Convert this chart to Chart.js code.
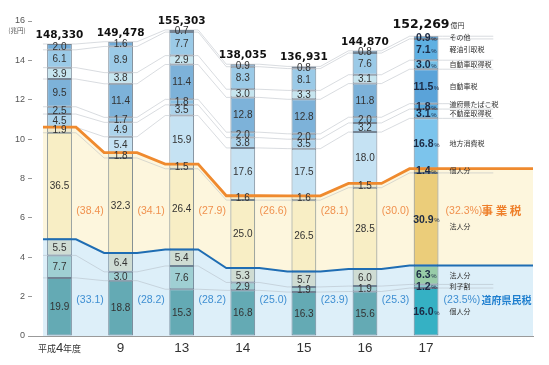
<!DOCTYPE html>
<html>
<head>
<meta charset="utf-8">
<script src="https://cdn.jsdelivr.net/npm/chart.js@4.4.0/dist/chart.umd.min.js"></script>
<style>
  html, body { margin: 0; padding: 0; background: #fff; }
</style>
</head>
<body>
<canvas id="chart" width="549" height="365"></canvas>
<script>
// fiscal years and totals (億円)
const years = ['平成4年度', '9', '13', '14', '15', '16', '17'];
const totals = [148330, 149478, 155303, 138035, 136931, 144870, 152269];

// composition in % , bottom to top
const kenminKojin = [19.9, 18.8, 15.3, 16.8, 16.3, 15.6, 16.0];
const rishiwari   = [7.7, 3.0, 7.6, 2.9, 1.9, 1.9, 1.2];
const kenminHojin = [5.5, 6.4, 5.4, 5.3, 5.7, 6.0, 6.3];
const jigyoHojin  = [36.5, 32.3, 26.4, 25.0, 26.5, 28.5, 30.9];
const jigyoKojin  = [1.9, 1.8, 1.5, 1.6, 1.6, 1.5, 1.4];
const chihoShohi  = [0, 5.4, 15.9, 17.6, 17.5, 18.0, 16.8];
const fudosan     = [4.5, 4.9, 3.5, 3.8, 3.5, 3.2, 3.1];
const tabako      = [2.5, 1.7, 1.8, 2.0, 2.0, 2.0, 1.8];
const jidosha     = [9.5, 11.4, 11.4, 12.8, 12.8, 11.8, 11.5];
const shutoku     = [3.9, 3.8, 2.9, 3.0, 3.3, 3.1, 3.0];
const keiyu       = [6.1, 8.9, 7.7, 8.3, 8.1, 7.6, 7.1];
const sonota      = [2.0, 1.6, 0.7, 0.9, 0.8, 0.8, 0.9];

// printed group shares
const kenminShare = [33.1, 28.2, 28.2, 25.0, 23.9, 25.3, 23.5];
const jigyoShare  = [38.4, 34.1, 27.9, 26.6, 28.1, 30.0, 32.3];

const yTicks = [0, 2, 4, 6, 8, 10, 12, 14, 16];

const series = [
  { name: '個人分', pct: kenminKojin, color: '#64aab4', hi: '#35b1c4' },
  { name: '利子割', pct: rishiwari, color: '#9fcfd3', hi: '#86cbd0' },
  { name: '法人分', pct: kenminHojin, color: '#cfdcd3', hi: '#98cca8' },
  { name: '法人分', pct: jigyoHojin, color: '#f8eec5', hi: '#ebcd7a' },
  { name: '個人分', pct: jigyoKojin, color: '#f1e9c9', hi: '#e4c980' },
  { name: '地方消費税', pct: chihoShohi, color: '#c5e2f3', hi: '#7cc4ec' },
  { name: '不動産取得税', pct: fudosan, color: '#acd3eb', hi: '#66b8e6' },
  { name: '道府県たばこ税', pct: tabako, color: '#8ac0e2', hi: '#55a9de' },
  { name: '自動車税', pct: jidosha, color: '#7db2d9', hi: '#5aa3d9' },
  { name: '自動車取得税', pct: shutoku, color: '#c6e5ef', hi: '#74bfe6' },
  { name: '軽油引取税', pct: keiyu, color: '#9bcae7', hi: '#5fb0e2' },
  { name: 'その他', pct: sonota, color: '#72acd8', hi: '#3f97d4' }
];

const FONT = '"Liberation Sans", Arial, sans-serif';
const JP = '"Noto Sans CJK JP", sans-serif';
const hw = 0.27;      // half bar width in x units (barPercentage 0.54)
const xMax = 7.75;

// heights in 兆円
const heights = series.map(s => s.pct.map((p, i) => p * totals[i] / 1e6));
const tops = heights.map((h, k) => h.map((_, i) => {
  let t = 0;
  for (let j = 0; j <= k; j++) t += heights[j][i];
  return t;
}));
const kenminTop = tops[2];
const jigyoTop = tops[4];

function stepLine(vals, extendTo) {
  const pts = [];
  vals.forEach((v, i) => {
    pts.push({ x: i - hw, y: v }, { x: i + hw, y: v });
  });
  pts.push({ x: extendTo, y: vals[vals.length - 1] });
  return pts;
}

const datasets = [];
datasets.push({
  type: 'line', data: stepLine(kenminTop, xMax), yAxisID: 'yl',
  borderWidth: 0, pointRadius: 0, fill: 'origin', backgroundColor: '#ddeff9', order: 20
});
datasets.push({
  type: 'line', data: stepLine(jigyoTop, xMax), yAxisID: 'yl',
  borderWidth: 0, pointRadius: 0, fill: '-1', backgroundColor: '#fdf6dd', order: 19
});
tops.forEach((t, k) => {
  if (k === 2 || k === 4) return;
  datasets.push({
    type: 'line', data: stepLine(t, 7.1), yAxisID: 'yl',
    borderColor: 'rgba(170,178,186,0.45)', borderWidth: 1, pointRadius: 0, fill: false, order: 10
  });
});
const barStart = datasets.length;
series.forEach((s, k) => {
  datasets.push({
    type: 'bar', label: s.name, stack: 'all',
    data: heights[k].map((v, i) => ({ x: i, y: v })),
    backgroundColor: years.map((_, i) => i === 6 ? s.hi : s.color),
    borderColor: 'rgba(70,90,110,0.7)', borderWidth: 1, borderSkipped: false,
    barPercentage: 0.54, categoryPercentage: 1, order: 5
  });
});
datasets.push({
  type: 'line', data: stepLine(kenminTop, xMax), yAxisID: 'yl',
  borderColor: '#1f6db3', borderWidth: 2, pointRadius: 0, fill: false, order: 0
});
datasets.push({
  type: 'line', data: stepLine(jigyoTop, xMax), yAxisID: 'yl',
  borderColor: '#ef8a2e', borderWidth: 2.8, pointRadius: 0, fill: false, order: 0
});

const texts = {
  id: 'texts',
  afterDatasetsDraw(chart) {
    const { ctx, scales: { x, y } } = chart;
    ctx.save();
    // segment values
    series.forEach((s, k) => {
      const meta = chart.getDatasetMeta(barStart + k);
      s.pct.forEach((p, i) => {
        if (!p) return;
        const el = meta.data[i];
        const cy = (el.y + el.base) / 2 + 0.5;
        ctx.textBaseline = 'middle';
        if (i === 6) {
          const num = p.toFixed(1);
          ctx.font = 'bold 10.5px ' + FONT;
          const w1 = ctx.measureText(num).width;
          ctx.font = '6px ' + FONT;
          const w2 = ctx.measureText('%').width;
          const sx = el.x - (w1 + w2) / 2;
          ctx.fillStyle = '#1b2a44';
          ctx.textAlign = 'left';
          ctx.font = 'bold 10.5px ' + FONT;
          ctx.fillText(num, sx, cy);
          ctx.font = '6px ' + FONT;
          ctx.fillText('%', sx + w1 + 0.5, cy + 1);
        } else {
          ctx.font = '10px ' + FONT;
          ctx.fillStyle = '#333';
          ctx.textAlign = 'center';
          ctx.fillText(p.toFixed(1), el.x, cy);
        }
      });
    });
    // totals on top
    const topMeta = chart.getDatasetMeta(barStart + series.length - 1);
    totals.forEach((t, i) => {
      const el = topMeta.data[i];
      const txt = t.toLocaleString('en-US');
      ctx.fillStyle = '#111';
      ctx.textBaseline = 'alphabetic';
      if (i === 6) {
        ctx.font = 'bold 12.5px "DejaVu Sans", sans-serif';
        const w1 = ctx.measureText(txt).width;
        ctx.font = '7px ' + JP;
        const w2 = ctx.measureText('億円').width;
        const sx = el.x + 2 - (w1 + w2) / 2;
        ctx.textAlign = 'left';
        ctx.font = 'bold 12.5px "DejaVu Sans", sans-serif';
        ctx.fillText(txt, sx, el.y - 8);
        ctx.font = '7px ' + JP;
        ctx.fillStyle = '#333';
        ctx.fillText('億円', sx + w1 + 1, el.y - 8);
      } else {
        ctx.font = 'bold 10.5px "DejaVu Sans", sans-serif';
        ctx.textAlign = 'center';
        ctx.fillText(txt, el.x, el.y - 6);
      }
    });
    // group shares between bars
    ctx.font = '10.5px ' + FONT;
    ctx.textBaseline = 'middle';
    for (let i = 0; i < 6; i++) {
      ctx.textAlign = 'center';
      ctx.fillStyle = '#f0914e';
      ctx.fillText('(' + jigyoShare[i].toFixed(1) + ')', x.getPixelForValue(i + 0.5), y.getPixelForValue(6.35));
      ctx.fillStyle = '#3f8fd2';
      ctx.fillText('(' + kenminShare[i].toFixed(1) + ')', x.getPixelForValue(i + 0.5), y.getPixelForValue(1.8));
    }
    const rx = x.getPixelForValue(6 + hw);
    ctx.textAlign = 'left';
    ctx.fillStyle = '#f0914e';
    const jt = '(' + jigyoShare[6].toFixed(1) + '%)';
    ctx.fillText(jt, rx + 3, y.getPixelForValue(6.35));
    ctx.font = 'bold 11.5px ' + JP;
    ctx.fillStyle = '#ee7f2a';
    ctx.fillText('事 業 税', rx + 39, y.getPixelForValue(6.35));
    ctx.font = '10.5px ' + FONT;
    ctx.fillStyle = '#3f8fd2';
    ctx.fillText('(' + kenminShare[6].toFixed(1) + '%)', rx + 1, y.getPixelForValue(1.8));
    ctx.font = 'bold 10px ' + JP;
    ctx.fillStyle = '#1f7fcf';
    ctx.fillText('道府県民税', rx + 39, y.getPixelForValue(1.8));
    // category names beside the last bar
    ctx.font = '7px ' + JP;
    ctx.fillStyle = '#333';
    series.forEach((s, k) => {
      const el = chart.getDatasetMeta(barStart + k).data[6];
      let cy = (el.y + el.base) / 2;
      if (k === 3) cy += 7;
      if (k === 7) cy -= 2;
      ctx.fillText(s.name, rx + 7, cy);
    });
    // unit under top tick
    ctx.font = '6.5px ' + JP;
    ctx.fillStyle = '#555';
    ctx.textAlign = 'center';
    ctx.fillText('(兆円)', 17, y.getPixelForValue(16) + 10);
    // x labels
    ctx.textBaseline = 'alphabetic';
    ctx.fillStyle = '#333';
    const by = 352;
    years.forEach((lab, i) => {
      const cx = x.getPixelForValue(i);
      if (i === 0) {
        ctx.font = '9px ' + JP;
        const a = ctx.measureText('平成').width;
        const c = ctx.measureText('年度').width;
        ctx.font = '13px ' + FONT;
        const b = ctx.measureText('4').width;
        let sx = cx - (a + b + c) / 2;
        ctx.textAlign = 'left';
        ctx.font = '9px ' + JP;
        ctx.fillText('平成', sx, by);
        ctx.font = '13px ' + FONT;
        ctx.fillText('4', sx + a, by);
        ctx.font = '9px ' + JP;
        ctx.fillText('年度', sx + a + b, by);
      } else {
        ctx.font = '13.5px ' + FONT;
        ctx.textAlign = 'center';
        ctx.fillText(lab, cx, by);
      }
    });
    ctx.restore();
  }
};

new Chart(document.getElementById('chart'), {
  data: { datasets },
  options: {
    responsive: false,
    animation: false,
    events: [],
    layout: { padding: { top: 21, right: 16, left: 0, bottom: 0 } },
    plugins: { legend: { display: false }, tooltip: { enabled: false } },
    scales: {
      x: {
        type: 'linear', min: -0.45, max: xMax, offset: false,
        ticks: { display: false },
        grid: { display: false },
        border: { display: true, color: '#9a9a9a' },
        afterFit(s) { s.height = 29; }
      },
      y: {
        stacked: true, min: 0, max: 16,
        afterBuildTicks(s) { s.ticks = yTicks.map(v => ({ value: v })); },
        ticks: { font: { size: 9, family: FONT }, color: '#555', padding: 3 },
        grid: { drawOnChartArea: false, drawTicks: true, tickLength: 4, color: '#999' },
        border: { display: false },
        afterFit(s) { s.width = 32; }
      },
      yl: { display: false, min: 0, max: 16 }
    }
  },
  plugins: [texts]
});
</script>
</body>
</html>
